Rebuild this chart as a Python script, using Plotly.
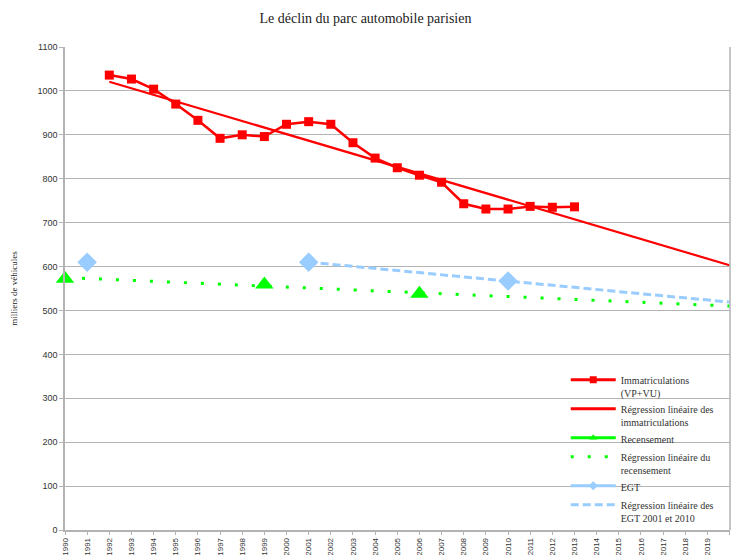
import plotly.graph_objects as go

# immatriculations (VP+VU), milliers
imm_years = list(range(1992, 2014))
imm_vals = [1036, 1027, 1004, 970, 933, 892, 900, 896, 924, 930, 924, 882, 847, 825, 808, 792, 743, 731, 731, 737, 735, 736]
reg_imm_years = [1992, 2020]
reg_imm_vals = [1021, 603]

# recensement
rec_years = [1990, 1999, 2006]
rec_vals = [572, 559, 538]
reg_rec_years = [1990, 2020]
reg_rec_vals = [575, 510]

# EGT
egt_years = [1991, 2001, 2010]
egt_vals = [610, 610, 567]
reg_egt_years = [2001, 2020]
reg_egt_vals = [610, 519]

x_ticks = list(range(1990, 2021))

red = '#ff0000'
green = '#00ff00'
blue = '#99ccff'
grid = '#b3b3b3'
serif = 'Liberation Serif'
sans = 'Liberation Sans'

fig = go.Figure()
# series drawn on the chart (legend handled by the entries below)
fig.add_trace(go.Scatter(x=reg_imm_years, y=reg_imm_vals, mode='lines', showlegend=False,
                         line=dict(color=red, width=2.2)))
fig.add_trace(go.Scatter(x=imm_years, y=imm_vals, mode='lines+markers', showlegend=False,
                         line=dict(color=red, width=2.5),
                         marker=dict(symbol='square', size=9, color=red)))
fig.add_trace(go.Scatter(x=reg_rec_years, y=reg_rec_vals, mode='lines', showlegend=False,
                         line=dict(color=green, width=3, dash='3px,14px')))
fig.add_trace(go.Scatter(x=rec_years, y=rec_vals, mode='markers', showlegend=False,
                         cliponaxis=False,
                         marker=dict(symbol='triangle-up', size=16, color=green)))
fig.add_trace(go.Scatter(x=reg_egt_years, y=reg_egt_vals, mode='lines', showlegend=False,
                         line=dict(color=blue, width=3, dash='8px,4px')))
fig.add_trace(go.Scatter(x=egt_years, y=egt_vals, mode='markers', showlegend=False,
                         cliponaxis=False,
                         marker=dict(symbol='diamond', size=15, color=blue)))

# legend entries
legend_items = [
    ('Immatriculations<br>(VP+VU)', red, None, 'square'),
    ('Régression linéaire des<br>immatriculations', red, None, None),
    ('Recensement', green, None, 'triangle-up'),
    ('Régression linéaire du<br>recensement', green, '3px,14px', None),
    ('EGT', blue, None, 'diamond'),
    ('Régression linéaire des<br>EGT 2001 et 2010', blue, '8px,4px', None),
]
for name, col, dash, sym in legend_items:
    fig.add_trace(go.Scatter(x=[None], y=[None], name=name,
                             mode='lines+markers' if sym else 'lines',
                             line=dict(color=col, width=3, dash=dash or 'solid'),
                             marker=dict(symbol=sym or 'circle', size=7, color=col)))

fig.update_layout(
    width=731, height=555,
    margin=dict(l=65, r=1, t=47, b=25),
    paper_bgcolor='white', plot_bgcolor='white',
    title=dict(text='Le déclin du parc automobile parisien', x=0.5, xanchor='center',
               y=0.977, yanchor='top', font=dict(family=serif, size=14, color='#222')),
    legend=dict(x=0.753, y=0.338, xanchor='left', yanchor='top', bgcolor='rgba(0,0,0,0)',
                font=dict(family=serif, size=10, color='#333'), itemwidth=45,
                valign='top', tracegroupgap=0),
    showlegend=True,
)
fig.update_xaxes(range=[1990, 2020.02], tickmode='array', tickvals=x_ticks,
                 ticktext=[str(v) for v in x_ticks], tickangle=-90,
                 ticks='outside', ticklen=3, tickcolor=grid, automargin=False,
                 showgrid=False, showline=True, linecolor=grid, linewidth=1.5,
                 zeroline=False,
                 tickfont=dict(family=sans, size=8, color='#333'))
fig.update_yaxes(range=[0, 1100], dtick=100, ticks='outside', ticklen=4, tickcolor=grid,
                 showgrid=True, gridcolor=grid, gridwidth=1, automargin=False,
                 showline=True, linecolor=grid, linewidth=1.5, zeroline=False,
                 tickfont=dict(family=sans, size=9, color='#333'),
                 title=dict(text='milliers de véhicules', font=dict(family=serif, size=9, color='#222'),
                            standoff=18))
fig.add_shape(type='line', xref='paper', yref='paper', x0=1, x1=1, y0=0, y1=1,
              line=dict(color=grid, width=1.5))

fig.write_html("out.html", config={'displayModeBar': False},
               post_script="document.body.style.margin='0';")
